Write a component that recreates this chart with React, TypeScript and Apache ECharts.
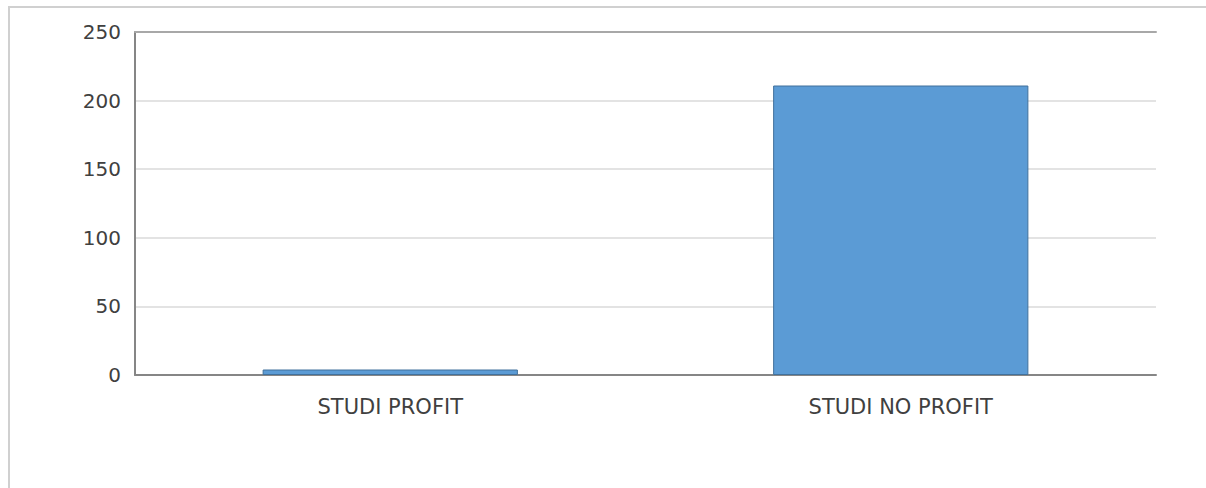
import React, { useEffect, useRef } from "react";
import * as echarts from "echarts";

const categories = ["STUDI PROFIT", "STUDI NO PROFIT"];
const values = [4, 211];
const yMin = 0;
const yMax = 250;
const yInterval = 50;

export default function App() {
  const ref = useRef<HTMLDivElement>(null);
  useEffect(() => {
    if (!ref.current) return;
    const chart = echarts.init(ref.current, undefined, { renderer: "svg" });
    const font = "'DejaVu Sans', sans-serif";
    chart.setOption({
      animation: false,
      backgroundColor: "#ffffff",
      grid: { left: 135, right: 50, top: 32, bottom: 113 },
      xAxis: [
        {
          type: "category",
          data: categories,
          axisLine: { show: true, lineStyle: { color: "#868686", width: 2 } },
          axisTick: { show: false },
          axisLabel: { color: "#404040", fontSize: 21, fontFamily: font, margin: 21 },
        },
        {
          type: "category",
          data: categories,
          position: "top",
          axisLine: { show: true, lineStyle: { color: "#a8a8a8", width: 2 } },
          axisTick: { show: false },
          axisLabel: { show: false },
        },
      ],
      yAxis: {
        type: "value",
        min: yMin,
        max: yMax,
        interval: yInterval,
        axisLine: { show: true, lineStyle: { color: "#868686", width: 2 } },
        axisTick: { show: false },
        axisLabel: { color: "#404040", fontSize: 20, fontFamily: font, margin: 14 },
        splitLine: { lineStyle: { color: "#e3e3e3", width: 2 } },
      },
      series: [
        {
          type: "bar",
          data: values,
          barWidth: "50%",
          itemStyle: { color: "#5b9bd5", borderColor: "#41719c", borderWidth: 1 },
        },
      ],
      graphic: [
        {
          type: "line",
          shape: { x1: 8, y1: 7, x2: 1206, y2: 7 },
          style: { stroke: "#d0d0d0", lineWidth: 2 },
        },
        {
          type: "line",
          shape: { x1: 9, y1: 7, x2: 9, y2: 488 },
          style: { stroke: "#d0d0d0", lineWidth: 2 },
        },
      ],
    });
    return () => chart.dispose();
  }, []);
  return (
    <div
      ref={ref}
      style={{ position: "absolute", left: 0, top: 0, width: 1206, height: 488 }}
    />
  );
}
